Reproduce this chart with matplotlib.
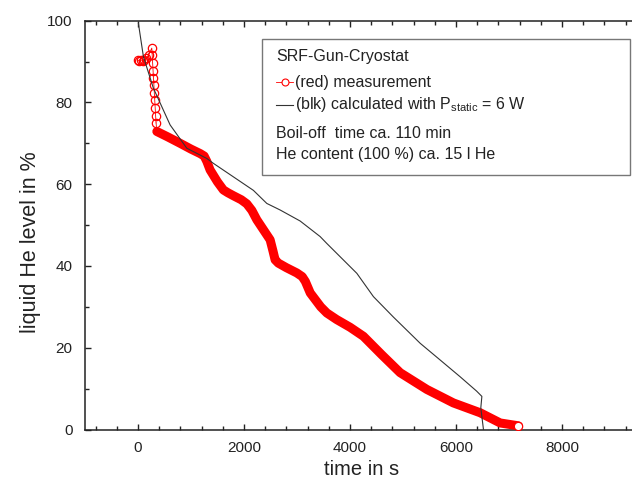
#!/usr/bin/env python3
# Liquid He level in the SRF gun cryostat: measurement vs calculation.
# deps: matplotlib

import matplotlib
matplotlib.use("Agg")  # headless
import matplotlib.pyplot as plt
import matplotlib.transforms as mtransforms
from matplotlib.lines import Line2D
from matplotlib.patches import Rectangle
from matplotlib.ticker import MultipleLocator, FuncFormatter

plt.rcParams["font.family"] = ["Liberation Sans", "DejaVu Sans"]
plt.rcParams["mathtext.fontset"] = "custom"
plt.rcParams["mathtext.rm"] = "Liberation Sans"

# measurement, first (sparse) part: start-up cluster and the fill column
start_t = [0, 30, 60, 90, 120, 150, 200,
           262, 270, 278, 286, 294, 302, 310, 318, 326, 334, 343]
start_lvl = [90.3, 90.1, 90.4, 90.2, 90.5, 90.8, 91.5,
             93.3, 91.5, 89.6, 87.8, 86.0, 84.2, 82.3, 80.5, 78.7, 76.8, 75.0]

# measurement, dense part (looks like a thick band)
meas_t = [357, 560, 798, 1000, 1174, 1250, 1300, 1362, 1500, 1613, 1700,
          1800, 1950, 2055, 2150, 2244, 2495, 2550, 2589, 2650, 2800, 2998,
          3100, 3160, 3252, 3450, 3565, 3750, 4004, 4255, 4600, 4948, 5452,
          5953, 6457, 6835, 7180]
meas_lvl = [72.9, 71.6, 70.0, 68.6, 67.5, 66.9, 65.6, 63.5, 60.6, 58.6, 57.9,
            57.2, 56.2, 55.2, 53.6, 51.3, 46.4, 43.6, 41.5, 40.7, 39.6, 38.3,
            37.4, 36.2, 33.4, 30.0, 28.5, 26.9, 25.0, 22.8, 18.3, 13.9, 9.8,
            6.5, 4.1, 1.6, 0.9]

# calculated with P_static = 6 W
calc_t = [9, 104, 292, 608, 923, 1300, 1425, 1802, 2179, 2432, 2683, 3061,
          3438, 3565, 4131, 4444, 4821, 5231, 5325, 5703, 6080, 6390, 6490,
          6470, 6520]
calc_lvl = [99.4, 91.2, 83.5, 74.5, 68.8, 66.3, 65.1, 61.8, 58.5, 55.3, 53.7,
            51.0, 47.2, 45.5, 38.2, 32.5, 27.5, 22.3, 21.1, 17.0, 12.9, 9.4,
            8.1, 5.3, 0.0]

RED = "#ff0000"
W, H = 632, 488

fig = plt.figure(figsize=(W / 100, H / 100), dpi=100)
# right spine sits outside the picture, as in the original scan
ax = fig.add_axes([84.9 / W, (H - 429.5) / H, 583 / W, 408.8 / H])

ax.plot(start_t, start_lvl, "-o", color=RED, lw=0.6, ms=6,
        mfc="none", mec=RED, mew=0.9, zorder=3)
ax.plot([start_t[-1], meas_t[0]], [start_lvl[-1], meas_lvl[0]],
        color=RED, lw=0.6, zorder=3)
ax.plot(meas_t, meas_lvl, color=RED, lw=6.5,
        solid_capstyle="round", solid_joinstyle="round", zorder=3)
ax.plot(meas_t[-1], meas_lvl[-1], "o", ms=6, mfc="white", mec=RED,
        mew=0.9, zorder=4)
ax.plot(calc_t, calc_lvl, color="#333333", lw=0.8, zorder=5)

ax.set_xlim(-1000, 10000)
ax.set_ylim(0, 100)
ax.xaxis.set_major_locator(MultipleLocator(2000))
ax.xaxis.set_minor_locator(MultipleLocator(400))
# the 10000 label falls outside the picture in the original
ax.xaxis.set_major_formatter(FuncFormatter(lambda v, p: "" if v > 9000 else f"{v:.0f}"))
ax.yaxis.set_major_locator(MultipleLocator(20))
ax.yaxis.set_minor_locator(MultipleLocator(10))
ax.tick_params(which="both", direction="in", top=True, right=True,
               width=1.0, labelsize=11, colors="#222222")
ax.tick_params(which="major", length=4.5)
ax.tick_params(which="minor", length=2.8)
ax.tick_params(axis="x", pad=8)
ax.tick_params(axis="y", pad=9)
for s in ax.spines.values():
    s.set_linewidth(1.1)
    s.set_color("#222222")

ax.set_xlabel("time in s", fontsize=14.5, color="#222222")
ax.set_ylabel("liquid He level in %", fontsize=15.5, color="#222222")
# the labels are centred on the visible part of the plot, not the full axes
ax.xaxis.set_label_coords(0.475, -0.099)
ax.yaxis.set_label_coords(-0.094, 0.459)
ax.xaxis.label.set_va("center")
ax.yaxis.label.set_va("center")

# legend box, drawn in picture pixels (y from the top)
px = mtransforms.Affine2D().scale(1 / W, -1 / H).translate(0, 1) + fig.transFigure
fig.add_artist(Rectangle((262, 39), 368, 136, transform=px, fill=False,
                         ec="#777777", lw=1.0))
txt = dict(transform=px, fontsize=11.5, color="#222222", va="center", ha="left")
fig.text(276, 57, "SRF-Gun-Cryostat", **txt)
fig.add_artist(Line2D([276, 293], [82, 82], transform=px, color=RED, lw=0.6))
fig.add_artist(Line2D([284.5], [82], transform=px, marker="o", ms=5,
                      mfc="white", mec=RED, mew=0.8))
fig.text(295, 82, "(red) measurement", **txt)
fig.add_artist(Line2D([276, 293], [105, 105], transform=px, color="#333333", lw=0.8))
fig.text(295, 105, r"(blk) calculated with P$_{\mathrm{static}}$ = 6 W", **txt)
fig.text(276, 133, "Boil-off  time ca. 110 min", **txt)
fig.text(276, 155, "He content (100 %) ca. 15 l He", **txt)

fig.savefig("out.png", dpi=100)
